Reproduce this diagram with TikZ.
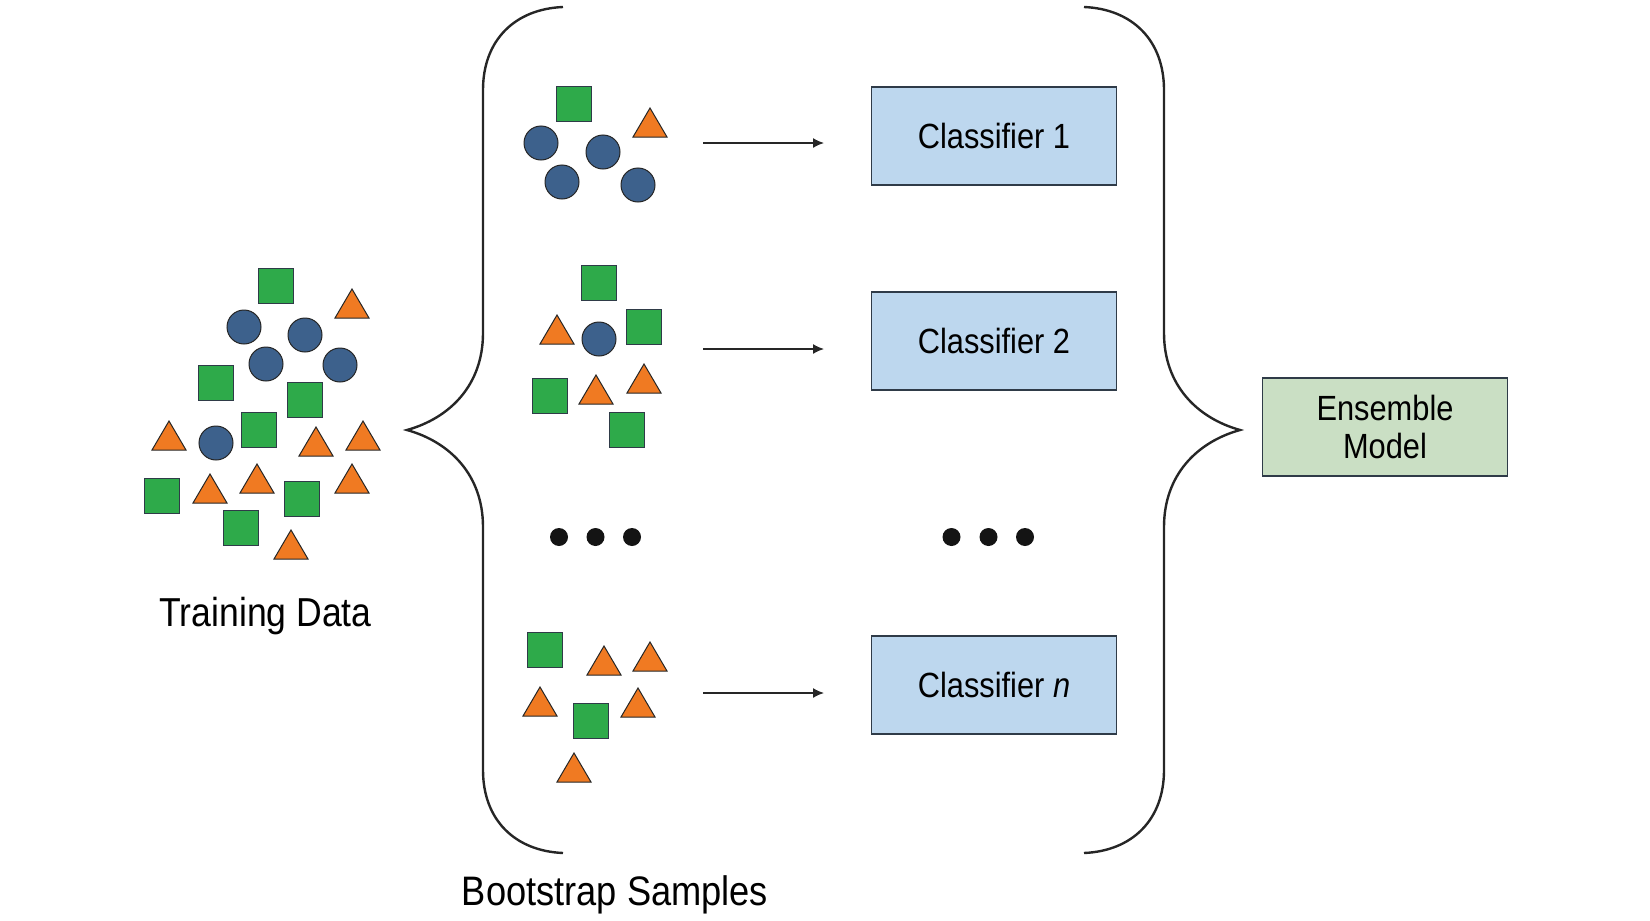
\documentclass[tikz,border=0pt]{standalone}
\usepackage{fontspec}
\setmainfont{Liberation Sans}[FakeStretch=0.88]
\usetikzlibrary{arrows.meta}
\definecolor{sqgreen}{HTML}{2EAA4A}
\definecolor{cblue}{HTML}{3D618C}
\definecolor{torange}{HTML}{F07A22}
\definecolor{boxblue}{HTML}{BDD7EE}
\definecolor{boxgreen}{HTML}{CADFC4}
\definecolor{edge}{HTML}{2F3B48}
\newcommand\mytri[2]{\filldraw[tristyle] (#1,#2) -- ++(17,29) -- ++(-34,0) -- cycle;}
\newcommand\mysq[2]{\filldraw[sqstyle] (#1-17.5,#2-17.5) rectangle ++(35,35);}
\newcommand\mycirc[2]{\filldraw[cirstyle] (#1,#2) circle [radius=17];}
\begin{document}
\begin{tikzpicture}[x=0.5pt,y=-0.5pt,
  tristyle/.style={fill=torange,draw=black!85,line width=0.5pt,line join=miter},
  sqstyle/.style={fill=sqgreen,draw=edge,line width=0.5pt},
  cirstyle/.style={fill=cblue,draw=black!85,line width=0.5pt},
  brace/.style={draw=black!85,line width=1.2pt},
  clsbox/.style={draw=edge,line width=0.6pt,fill=boxblue,minimum width=122.5pt,minimum height=49pt,inner sep=0pt,font=\fontsize{17.5}{19}\selectfont},
  ensbox/.style={draw=edge,line width=0.6pt,fill=boxgreen,minimum width=122.5pt,minimum height=49pt,inner sep=0pt,align=center,font=\fontsize{17.5}{19}\selectfont},
  lbl/.style={anchor=base,inner sep=0pt},
  arr/.style={-{Latex[length=5.5pt,width=5pt]},line width=0.7pt,draw=black!85},
  bigdot/.style={fill=black!92,draw=none}]
\useasboundingbox (0,0) rectangle (1650,921);

% Training data
\mysq{276}{286}
\mytri{352}{289}
\mycirc{244}{327}
\mycirc{305}{335}
\mycirc{266}{364}
\mycirc{340}{365}
\mysq{216}{383}
\mysq{305}{400}
\mysq{259}{430}
\mytri{169}{421}
\mycirc{216}{443}
\mytri{316}{427}
\mytri{363}{421}
\mysq{162}{496}
\mytri{210}{474}
\mytri{257}{464}
\mysq{302}{499}
\mytri{352}{464}
\mysq{241}{528}
\mytri{291}{530}
\node[lbl,font=\fontsize{20.2}{22}\selectfont] (train) at (265.5,626) {Training Data};

% Braces
\draw[brace] (563,7) .. controls (515,9) and (483,40) .. (483,90) -- (483,333)
  .. controls (483,385) and (450,418) .. (407,430)
  .. controls (450,442) and (483,475) .. (483,527) -- (483,770)
  .. controls (483,820) and (515,851) .. (563,853);
\draw[brace] (1084,7) .. controls (1132,9) and (1164,40) .. (1164,90) -- (1164,333)
  .. controls (1164,385) and (1197,418) .. (1240,430)
  .. controls (1197,442) and (1164,475) .. (1164,527) -- (1164,770)
  .. controls (1164,820) and (1132,851) .. (1084,853);

% Sample 1
\mysq{574}{104}
\mytri{650}{108}
\mycirc{541}{143}
\mycirc{603}{152}
\mycirc{562}{182}
\mycirc{638}{185}

% Sample 2
\mysq{599}{283}
\mytri{557}{315}
\mycirc{599}{339}
\mysq{644}{327}
\mysq{550}{396}
\mytri{596}{375}
\mytri{644}{364}
\mysq{627}{430}

% Sample n
\mysq{545}{650}
\mytri{604}{646}
\mytri{650}{642}
\mytri{540}{687}
\mysq{591}{721}
\mytri{638}{688}
\mytri{574}{753}

% Dots
\foreach \dx in {559,595.5,632,951.5,988.5,1025}
  \fill[bigdot] (\dx,537) circle [radius=9];

\node[lbl,font=\fontsize{20.6}{23}\selectfont] (boot) at (615,905) {Bootstrap Samples};

% Classifiers
\node[clsbox] (c1) at (994,136) {Classifier 1};
\node[clsbox] (c2) at (994,341) {Classifier 2};
\node[clsbox] (cn) at (994,685) {Classifier \textit{n}};
\node[ensbox] (ens) at (1385,427) {Ensemble\\Model};

% Arrows
\coordinate (s1) at (703,143);
\coordinate (e1) at (824,143);
\coordinate (s2) at (703,349);
\coordinate (e2) at (824,349);
\coordinate (sn) at (703,693);
\coordinate (en) at (824,693);
\draw[arr] (s1) -- (e1);
\draw[arr] (s2) -- (e2);
\draw[arr] (sn) -- (en);
\end{tikzpicture}
\end{document}
